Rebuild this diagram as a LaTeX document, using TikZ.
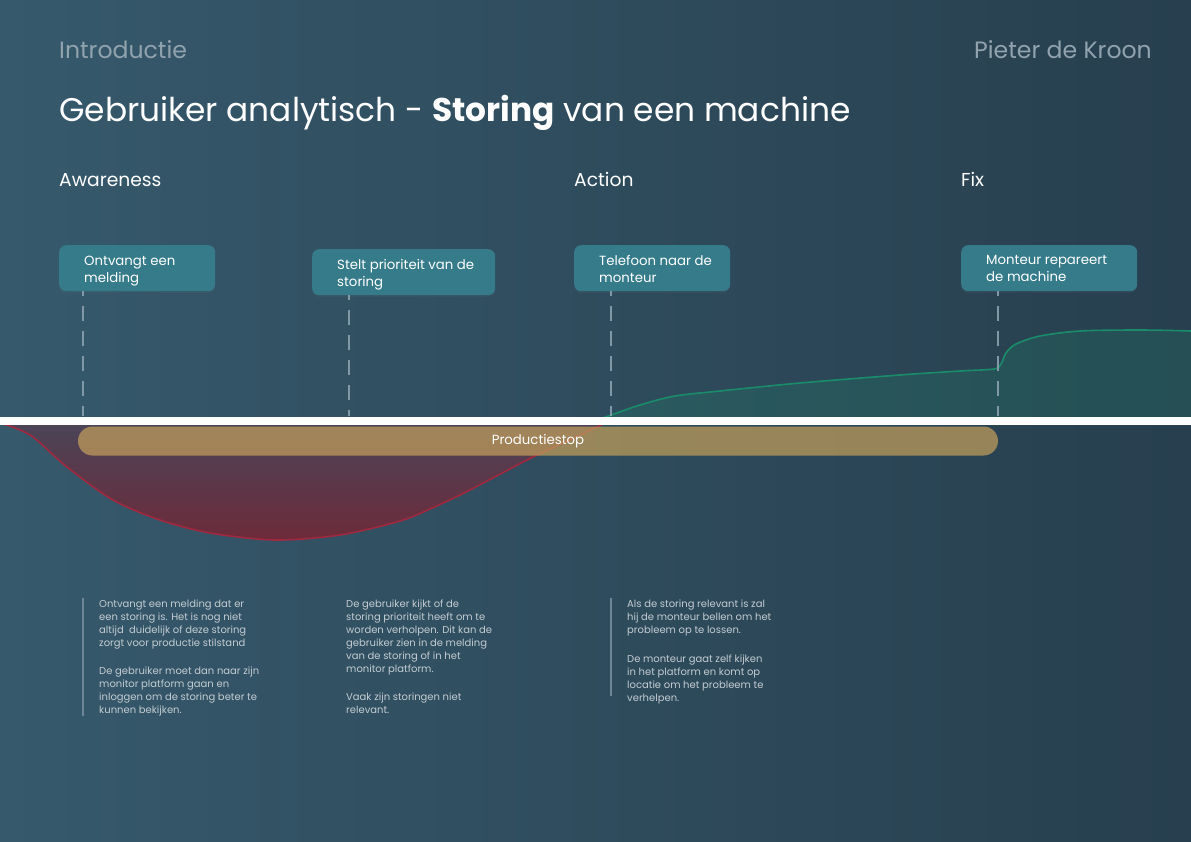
\documentclass[tikz,border=0pt]{standalone}
\usepackage{fontspec}
\setmainfont{Poppins}
\usetikzlibrary{shadows}
\definecolor{bgL}{HTML}{36596C}
\definecolor{bgM}{HTML}{31546A}
\definecolor{bgR}{HTML}{273F4E}
\definecolor{headgray}{HTML}{91A3AE}
\definecolor{boxfill}{HTML}{367B8A}
\definecolor{dashcol}{HTML}{8198A6}
\definecolor{smalltext}{HTML}{C3CCD2}
\definecolor{barcol}{HTML}{C29E5B}
\definecolor{redT}{HTML}{4B4457}
\definecolor{redB}{HTML}{6D2B3A}
\definecolor{redline}{HTML}{A0283F}
\definecolor{greenline}{HTML}{1A8C6A}
\definecolor{greenfill}{HTML}{1E8C6C}
\definecolor{sidebar}{HTML}{6E8695}
\tikzset{
  headtext/.style={font=\fontsize{23.6}{28}\selectfont, text=headgray, inner sep=0},
  titletext/.style={font=\fontsize{32.8}{38}\selectfont, text=white, inner sep=0},
  phasetext/.style={font=\fontsize{18.7}{22}\selectfont, text=white, inner sep=0, anchor=base west},
  stepbox/.style={fill=boxfill, rounded corners=7pt, minimum height=46pt, inner sep=0, anchor=north west,
     drop shadow={opacity=0.08, shadow xshift=0pt, shadow yshift=-2pt}},
  boxtext/.style={font=\fontsize{13.3}{17}\selectfont, text=white, align=left, inner sep=0, anchor=north west},
  dashline/.style={draw=dashcol, line width=2pt, dash pattern=on 15pt off 10pt, dash phase=10pt},
  smalltxt/.style={font=\fontsize{10}{13}\selectfont, text=smalltext, align=left, inner sep=0, anchor=north west},
  sidebarline/.style={draw=sidebar, line width=2pt},
}
\begin{document}
\begin{tikzpicture}[x=1pt,y=-1pt]
\useasboundingbox (0,0) rectangle (1191,842);
% background
\shade[left color=bgL, middle color=bgM, right color=bgR] (0,0) rectangle (1191,842);

% green area
\fill[greenfill, fill opacity=0.22] plot[smooth] coordinates {(603,418) (640,405) (675,396) (720,391) (800,383) (900,375) (960,371) (994,369) (1001,364) (1006,353) (1016,344) (1040,336) (1080,331) (1140,330) (1191,331)} -- (1191,417) -- (603,417) -- cycle;
\draw[greenline, line width=1.6pt] plot[smooth] coordinates {(603,418) (640,405) (675,396) (720,391) (800,383) (900,375) (960,371) (994,369) (1001,364) (1006,353) (1016,344) (1040,336) (1080,331) (1140,330) (1191,331)};

% red area
\shade[top color=redT, bottom color=redB] plot[smooth] coordinates {(0,424) (10,426) (33,437) (67,467) (113,500) (160,520) (210,533) (275,540) (340,535) (400,521) (430,509) (460,495) (487,481) (533,457) (570,440) (603,424)} -- cycle;
\draw[redline, line width=1.6pt] plot[smooth] coordinates {(0,424) (10,426) (33,437) (67,467) (113,500) (160,520) (210,533) (275,540) (340,535) (400,521) (430,509) (460,495) (487,481) (533,457) (570,440) (603,424)};

% production stop bar
\node[fill=barcol, fill opacity=0.72, text opacity=1, rounded corners=14.5pt, minimum width=920pt, minimum height=29pt, inner sep=0,
  font=\fontsize{13.3}{16}\selectfont, text=white] (stop) at (538,441) {Productiestop};

% white band
\fill[white] (0,417) rectangle (1191,425);

% headers
\node[headtext, anchor=base west] (intro) at (59,59) {Introductie};
\node[headtext, anchor=base east] (author) at (1152,59) {Pieter de Kroon};
\node[titletext, anchor=base west] (title) at (59,122) {Gebruiker analytisch - \textbf{Storing} van een machine};
\node[phasetext] (aware) at (59,187) {Awareness};
\node[phasetext] (action) at (574,187) {Action};
\node[phasetext] (fix) at (961,187) {Fix};

% step boxes
\node[stepbox, minimum width=156pt] (b1) at (59,245) {};
\node[stepbox, minimum width=183pt] (b2) at (312,249) {};
\node[stepbox, minimum width=156pt] (b3) at (574,245) {};
\node[stepbox, minimum width=176pt] (b4) at (961,245) {};
\node[boxtext] (t1) at (84,255.5) {Ontvangt een\\melding};
\node[boxtext] (t2) at (337,259.5) {Stelt prioriteit van de\\storing};
\node[boxtext] (t3) at (599,255.5) {Telefoon naar de\\monteur};
\node[boxtext] (t4) at (986,255.5) {Monteur repareert\\de machine};

% dashed drop lines
\coordinate (e1) at (83,416);
\coordinate (e2) at (349,416);
\coordinate (e3) at (611,416);
\coordinate (e4) at (998,416);
\draw[dashline] (b1.south -| e1) -- (e1);
\draw[dashline] (b2.south -| e2) -- (e2);
\draw[dashline] (b3.south -| e3) -- (e3);
\draw[dashline] (b4.south -| e4) -- (e4);

% description texts
\coordinate (s1a) at (83,598);
\coordinate (s1b) at (83,716);
\coordinate (s3a) at (611,598);
\coordinate (s3b) at (611,696);
\draw[sidebarline] (s1a) -- (s1b);
\draw[sidebarline] (s3a) -- (s3b);
\node[smalltxt] (d1) at (99,599.5) {Ontvangt een melding dat er\\een storing is. Het is nog niet\\altijd\ \ duidelijk of deze storing\\zorgt voor productie stilstand\\[15pt]De gebruiker moet dan naar zijn\\monitor platform gaan en\\inloggen om de storing beter te\\kunnen bekijken.};
\node[smalltxt] (d2) at (346,599.5) {De gebruiker kijkt of de\\storing prioriteit heeft om te\\worden verholpen. Dit kan de\\gebruiker zien in de melding\\van de storing of in het\\monitor platform.\\[15pt]Vaak zijn storingen niet\\relevant.};
\node[smalltxt] (d3) at (627,599.5) {Als de storing relevant is zal\\hij de monteur bellen om het\\probleem op te lossen.\\[16pt]De monteur gaat zelf kijken\\in het platform en komt op\\locatie om het probleem te\\verhelpen.};
\end{tikzpicture}
\end{document}
